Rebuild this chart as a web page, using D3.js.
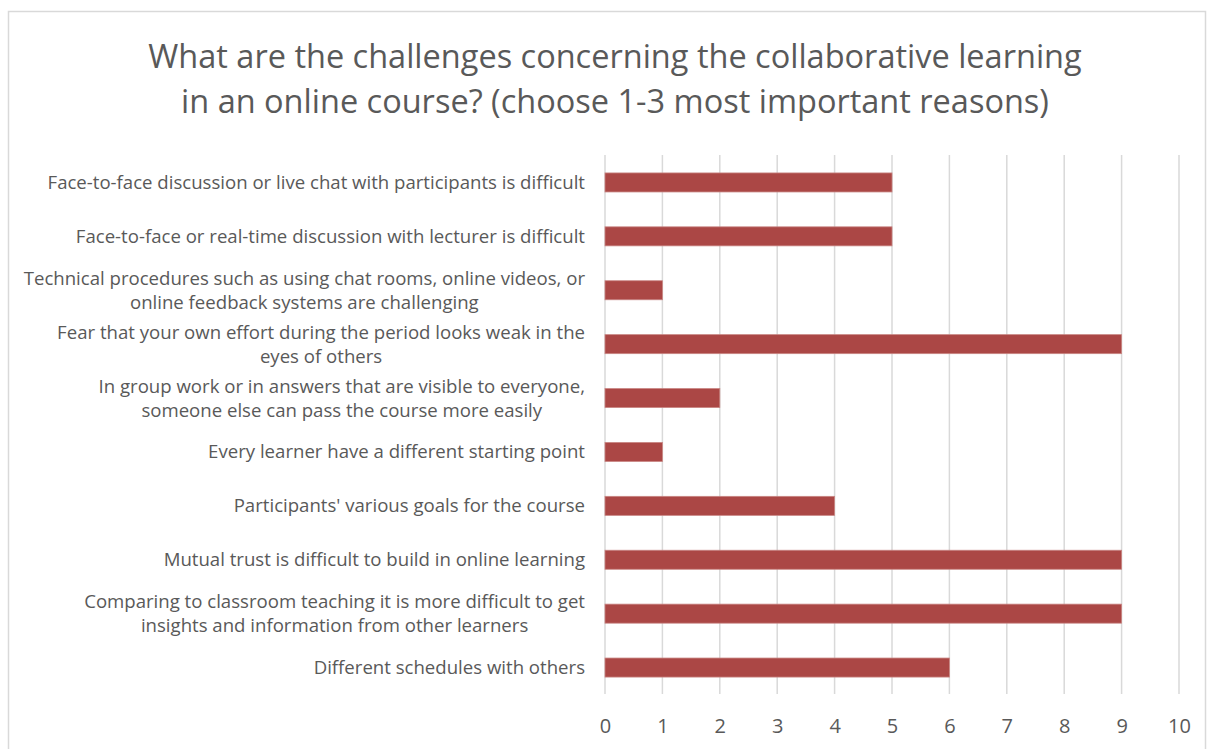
<!DOCTYPE html>
<html>
<head>
<meta charset="utf-8">
<script src="https://cdn.jsdelivr.net/npm/d3@7"></script>
<style>
  body { margin: 0; background: #fff; }
  text { font-family: "Open Sans", Lato, sans-serif; fill: #595959; }
</style>
</head>
<body>
<svg id="chart" width="1207" height="749"></svg>
<script>
// categories, top to bottom; "\n" marks a wrapped label line
var categories = [
  "Face-to-face discussion or live chat with participants is difficult",
  "Face-to-face or real-time discussion with lecturer is difficult",
  "Technical procedures such as using chat rooms, online videos, or\nonline feedback systems are challenging",
  "Fear that your own effort during the period looks weak in the\neyes of others",
  "In group work or in answers that are visible to everyone,\nsomeone else can pass the course more easily",
  "Every learner have a different starting point",
  "Participants' various goals for the course",
  "Mutual trust is difficult to build in online learning",
  "Comparing to classroom teaching it is more difficult to get\ninsights and information from other learners",
  "Different schedules with others"
];
var counts = [5, 5, 1, 9, 2, 1, 4, 9, 9, 6];
var xTicks = [0, 1, 2, 3, 4, 5, 6, 7, 8, 9, 10];
var titleLines = [
  "What are the challenges concerning the collaborative learning",
  "in an online course? (choose 1-3 most important reasons)"
];

var svg = d3.select("#chart");

// chart border
svg.append("rect")
    .attr("x", 8.5).attr("y", 11.5)
    .attr("width", 1197).attr("height", 760)
    .attr("fill", "none")
    .attr("stroke", "#d9d9d9")
    .attr("stroke-width", 1.5);

// title
svg.append("g").selectAll("text")
    .data(titleLines)
    .enter().append("text")
    .attr("x", 615)
    .attr("y", function(d, i) { return 68 + i * 45; })
    .attr("text-anchor", "middle")
    .style("font-size", "32.5px")
    .text(function(d) { return d; });

var x = d3.scaleLinear().domain([0, 10]).range([605, 1179]);
var y = d3.scaleBand().domain(categories).range([155.5, 694.5]).paddingInner(0.647).paddingOuter(0.3235);

// gridlines
svg.append("g").selectAll("line")
    .data(xTicks)
    .enter().append("line")
    .attr("x1", function(d) { return x(d); })
    .attr("x2", function(d) { return x(d); })
    .attr("y1", 155)
    .attr("y2", 694)
    .attr("stroke", "#d9d9d9")
    .attr("stroke-width", 1.5);

// bars
svg.append("g").selectAll("rect")
    .data(categories)
    .enter().append("rect")
    .attr("x", x(0))
    .attr("y", function(d) { return y(d); })
    .attr("width", function(d, i) { return x(counts[i]) - x(0); })
    .attr("height", y.bandwidth())
    .attr("fill", "#ab4745")
    .attr("stroke", "#c98583")
    .attr("stroke-width", 0.8);

// x axis tick labels
var xAxis = svg.append("g")
    .attr("transform", "translate(0,694)")
    .call(d3.axisBottom(x).tickValues(xTicks).tickSize(0).tickPadding(25));
xAxis.select(".domain").remove();
xAxis.selectAll("text")
    .style("font-size", "20px")
    .style("font-family", "'Open Sans', Lato, sans-serif")
    .attr("fill", "#595959");

// category labels
var labelRight = 585;
var lineGap = 24;
var labels = svg.append("g");
categories.forEach(function(c) {
  var lines = c.split("\n");
  var cy = y(c) + y.bandwidth() / 2;
  var g = labels.append("g");
  var t = g.selectAll("text")
      .data(lines)
      .enter().append("text")
      .attr("y", function(d, i) { return cy + (i - (lines.length - 1) / 2) * lineGap; })
      .attr("dy", "0.35em")
      .style("font-size", "18.6px")
      .text(function(d) { return d; });
  if (lines.length === 1) {
    t.attr("x", labelRight).attr("text-anchor", "end");
  } else {
    var w = 0;
    t.each(function() { w = Math.max(w, this.getComputedTextLength()); });
    t.attr("x", labelRight - w / 2).attr("text-anchor", "middle");
  }
});
</script>
</body>
</html>
